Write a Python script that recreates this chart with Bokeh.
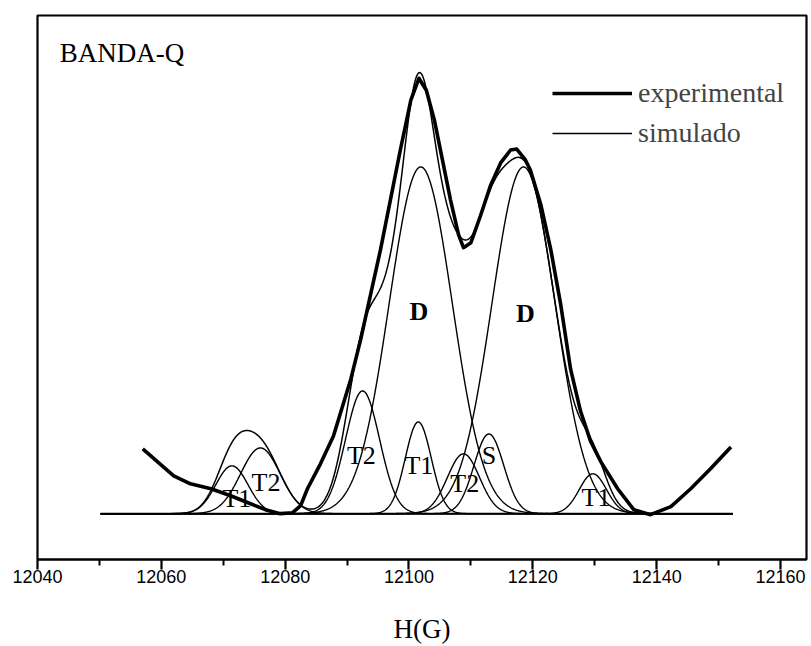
import numpy as np
from bokeh.plotting import figure
from bokeh.models import Range1d, Legend, LegendItem, Label, FixedTicker, ColumnDataSource
from bokeh.embed import file_html
from bokeh.resources import INLINE
from bokeh.core.properties import value

# ---- experimental trace (field in G, intensity in arbitrary units) ----
exp_field = [12057.0, 12059.4, 12062.0, 12064.7, 12068.0, 12071.2, 12074.4, 12076.8, 12079.2,
             12081.2, 12082.5, 12083.6, 12085.7, 12087.8, 12090.6, 12092.2, 12093.8, 12095.4,
             12097.0, 12098.6, 12100.3, 12101.6, 12102.8, 12104.1, 12105.4, 12106.7, 12108.0,
             12108.8, 12110.0, 12111.6, 12113.2, 12114.8, 12116.4, 12117.4, 12118.8, 12119.6,
             12121.3, 12122.9, 12124.5, 12126.1, 12127.7, 12129.3, 12131.0, 12133.7, 12136.3,
             12139.0, 12142.3, 12145.5, 12148.7, 12152.0]
exp_intensity = [16.25, 13.0, 9.5, 7.5, 6.25, 4.5, 2.5, 1.0, 0.0,
                 0.25, 2.0, 6.25, 12.5, 19.5, 33.75, 43.75, 55.0, 66.25,
                 78.75, 91.25, 103.75, 109.25, 106.25, 98.75, 88.75, 78.75, 70.0,
                 66.75, 68.0, 75.0, 82.5, 88.0, 91.25, 91.5, 88.75, 86.25,
                 77.5, 66.25, 52.5, 36.25, 25.75, 18.25, 13.0, 6.25, 1.0,
                 -0.25, 1.75, 6.25, 11.25, 16.75]

# ---- simulated components (gaussian lines): centre (G), height, sigma (G) ----
comp_names = ["T1", "T2", "T2", "D", "T1", "T2", "S", "D", "T1"]
comp_center = [12071.4, 12076.0, 12092.5, 12101.9, 12101.5, 12108.8, 12112.9, 12118.5, 12129.7]
comp_height = [12.0, 16.5, 30.8, 87.0, 23.0, 15.0, 20.0, 87.0, 10.0]
comp_sigma = [2.6, 3.2, 2.75, 5.1, 2.1, 2.6, 2.4, 5.1, 2.2]

baseline_field = [12050.2, 12152.3]

# ---- axis ticks ----
major_ticks = [12040, 12060, 12080, 12100, 12120, 12140, 12160]
minor_ticks = [12050, 12070, 12090, 12110, 12130, 12150]

# ---- component labels ----
label_text = ["D", "D", "T2", "T1", "T2", "S", "T1", "T1", "T2"]
label_x = [12101.6, 12118.8, 12092.3, 12101.6, 12109.0, 12112.9, 12130.2, 12072.2, 12076.9]
label_y = [50.8, 50.2, 14.5, 12.0, 7.5, 14.5, 4.0, 3.8, 7.8]

SERIF = "Liberation Serif"

p = figure(width=811, height=646, output_backend="svg", toolbar_location=None,
           x_range=Range1d(12040, 12164.2), y_range=Range1d(-11.5, 125),
           min_border_left=37, min_border_right=5, min_border_top=15, min_border_bottom=85)
p.background_fill_color = "white"
p.border_fill_color = "white"
p.grid.visible = False
p.yaxis.visible = False
p.outline_line_color = "black"
p.outline_line_width = 2.2

ax = p.xaxis[0]
ax.ticker = FixedTicker(ticks=major_ticks, minor_ticks=minor_ticks)
ax.axis_line_width = 2.2
ax.major_tick_line_width = 2.2
ax.minor_tick_line_width = 2.0
ax.major_tick_out = 10
ax.major_tick_in = 0
ax.minor_tick_out = 6
ax.minor_tick_in = 0
ax.major_label_standoff = 0
ax.major_label_text_font = "Liberation Sans"
ax.major_label_text_font_size = "18px"
ax.major_label_text_color = "black"
ax.axis_label = "H(G)"
ax.axis_label_text_font = SERIF
ax.axis_label_text_font_size = "27px"
ax.axis_label_text_font_style = "normal"
ax.axis_label_text_color = "black"
ax.axis_label_standoff = 28

# component curves
grid = np.linspace(baseline_field[0], baseline_field[1], 1200)
xs, ys = [], []
total = np.zeros_like(grid)
for c, h, s in zip(comp_center, comp_height, comp_sigma):
    g = h * np.exp(-(grid - c) ** 2 / (2 * s ** 2))
    total += g
    xs.append(grid)
    ys.append(g)
p.multi_line(xs, ys, line_color="black", line_width=1.4)
p.line(baseline_field, [0, 0], line_color="black", line_width=1.6)
r_sim = p.line(grid, total, line_color="black", line_width=1.5)
r_exp = p.line(exp_field, exp_intensity, line_color="black", line_width=3.6, line_join="round")

src = ColumnDataSource(dict(x=label_x, y=label_y, t=label_text,
                            st=["bold" if t == "D" else "normal" for t in label_text]))
p.text(x="x", y="y", text="t", source=src, text_font=value(SERIF), text_font_size="26px",
       text_font_style="st", text_align="center", text_baseline="middle", text_color="black")

p.add_layout(Label(x=12043.6, y=115.5, text="BANDA-Q", text_font=SERIF, text_font_size="27px",
                   text_baseline="middle", text_align="left", text_color="black"))

legend = Legend(items=[LegendItem(label="experimental", renderers=[r_exp]),
                       LegendItem(label="simulado", renderers=[r_sim])],
                location=(515, 410), glyph_width=80, glyph_height=20, label_standoff=6,
                padding=0, margin=0, spacing=8, label_height=32,
                label_text_font=SERIF, label_text_font_size="28px",
                background_fill_alpha=0, border_line_alpha=0)
p.add_layout(legend)

open("out.html", "w").write(file_html(p, INLINE))
